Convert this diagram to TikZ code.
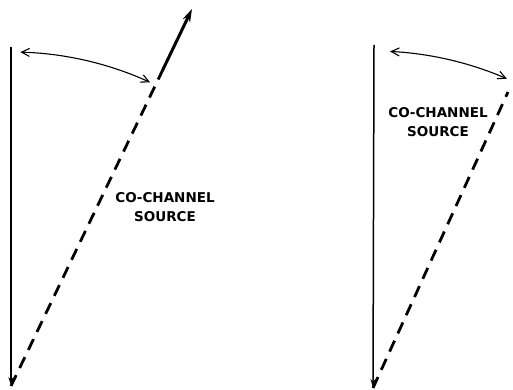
\documentclass[tikz,border=0pt]{standalone}
\usepackage{fontspec}
\setsansfont{DejaVu Sans}
\usetikzlibrary{arrows.meta,calc}

\begin{document}
\begin{tikzpicture}[
  x=1pt, y=1pt,
  axis/.style={line width=1.5pt, -{Stealth[length=9pt,width=5pt]}},
  ray/.style={line width=2.8pt, dash pattern=on 12pt off 8pt},
  beam/.style={line width=3pt, -{Stealth[length=13pt,width=8pt]}},
  swing/.style={line width=1.1pt, {Straight Barb[length=8pt,width=8pt]}-{Straight Barb[length=8pt,width=8pt]}},
  lbl/.style={align=center, inner sep=0pt, font=\sffamily\bfseries\fontsize{13.5}{19.5}\selectfont},
]
\useasboundingbox (0,0) rectangle (513,390);

\def\rL{334}
\def\rR{337}

% ---------- source beyond the beam ----------
\coordinate (vtxL) at (11,4);
\coordinate (topL) at (11,343);
\coordinate (tipL) at (192,381);
\coordinate (brkL) at ($(vtxL)!0.835!(tipL)$);
\draw[axis] (topL) -- (vtxL);
\draw[ray] (vtxL) -- (brkL);
\draw[beam] (brkL) -- (tipL);
\draw[swing] ($(vtxL)+(88.4:\rL)$) arc[start angle=88.4, end angle=65.4, radius=\rL];
\node[lbl] (srcL) at (165,183) {CO-CHANNEL\\SOURCE};

% ---------- source inside the beam ----------
\coordinate (vtxR) at (373,2);
\coordinate (topR) at (374,345);
\coordinate (endR) at (508,298);
\draw[axis] (topR) -- (vtxR);
\draw[ray] (vtxR) -- (endR);
\draw[swing] ($(vtxR)+(87.1:\rR)$) arc[start angle=87.1, end angle=66.6, radius=\rR];
\node[lbl] (srcR) at (438,268) {CO-CHANNEL\\SOURCE};

\end{tikzpicture}
\end{document}
